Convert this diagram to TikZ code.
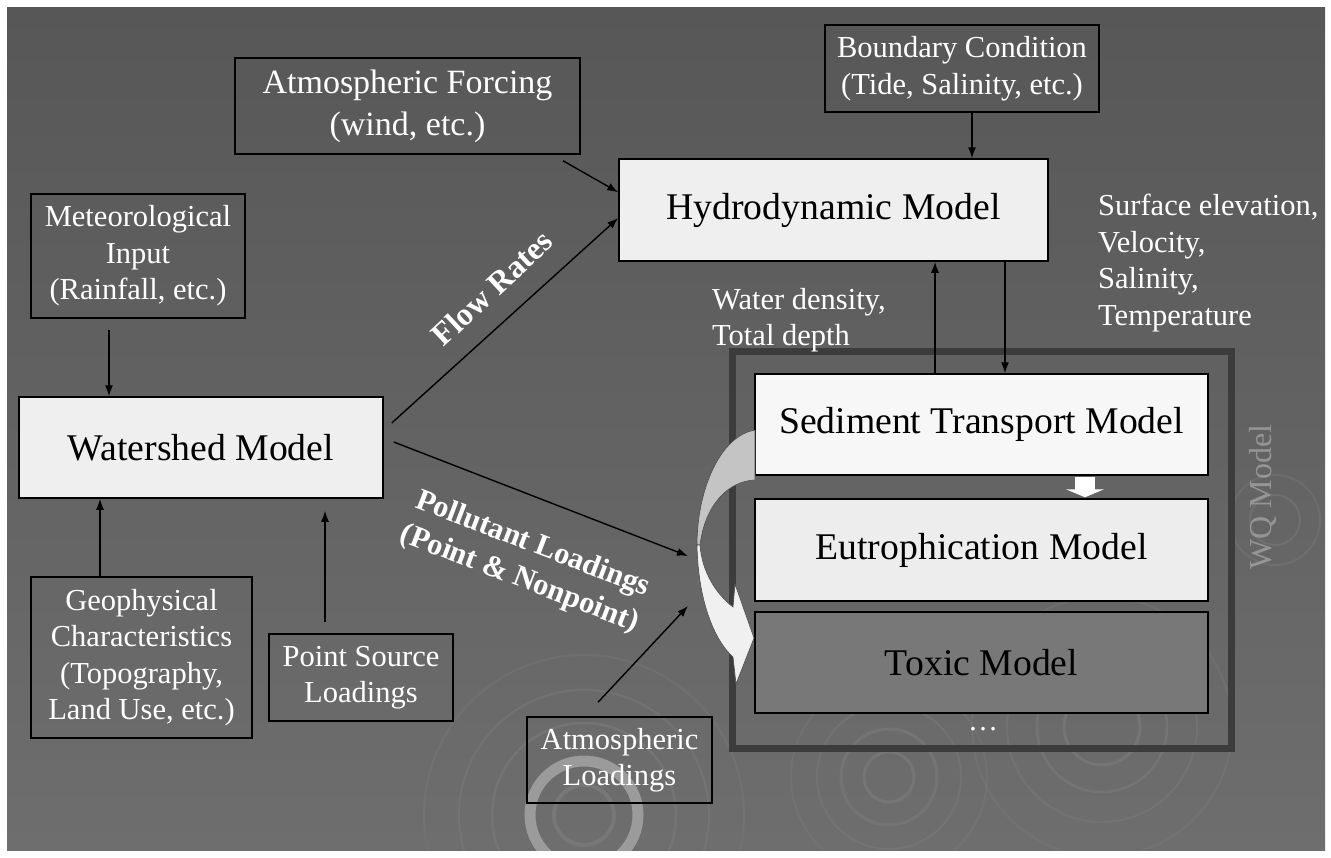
\documentclass[tikz,border=0pt]{standalone}
\usepackage{fontspec}
\setmainfont{Liberation Serif}
\usetikzlibrary{arrows.meta}
\definecolor{bgtop}{HTML}{575757}
\definecolor{bgbot}{HTML}{6E6E6E}
\definecolor{wqedge}{HTML}{3C3C3C}
\definecolor{lightbox}{HTML}{EFEFEF}
\definecolor{toxfill}{HTML}{787878}
\definecolor{ripple}{HTML}{7A7A7A}
\begin{document}
\begin{tikzpicture}[x=1pt,y=-1pt,
  inbox/.style={draw=black, line width=1.5pt, text=white, align=center, inner sep=0pt, font=\fontsize{30.5}{36.5}\selectfont},
  modelbox/.style={draw=black, line width=1.5pt, align=center, inner sep=0pt, font=\fontsize{37.7}{44}\selectfont},
  arr/.style={draw=black, line width=1.4pt, -{Latex[length=11pt,width=8pt]}},
  lbl/.style={text=white, align=left, inner sep=0pt, font=\fontsize{30.5}{36.5}\selectfont},
  boldlbl/.style={text=white, align=center, inner sep=0pt, font=\fontsize{30.5}{37}\selectfont\bfseries}]
\useasboundingbox (0,0) rectangle (1331,857);
\fill[white] (0,0) rectangle (1331,857);
\shade[top color=bgtop, bottom color=bgbot] (7,7) rectangle (1325,850);

% ripples
\begin{scope}
\clip (7,7) rectangle (1325,850);
\draw[ripple!60!white, line width=11pt, opacity=0.7] (584,815) circle (54);
\draw[ripple, line width=4pt, opacity=0.8] (584,815) circle (30);
\draw[ripple, line width=2.5pt, opacity=0.6] (584,815) circle (92);
\draw[ripple, line width=2pt, opacity=0.5] (584,815) circle (125);
\draw[ripple, line width=2pt, opacity=0.4] (584,815) circle (160);
\draw[ripple, line width=3pt, opacity=0.7] (889,777) circle (25);
\draw[ripple, line width=3pt, opacity=0.6] (889,777) circle (48);
\draw[ripple, line width=2pt, opacity=0.5] (889,777) circle (72);
\draw[ripple, line width=2pt, opacity=0.4] (889,777) circle (98);
\draw[ripple, line width=3pt, opacity=0.7] (1102,727) circle (38);
\draw[ripple, line width=2.5pt, opacity=0.6] (1102,727) circle (65);
\draw[ripple, line width=2pt, opacity=0.5] (1102,727) circle (95);
\draw[ripple, line width=2pt, opacity=0.4] (1102,727) circle (130);
\draw[ripple, line width=2pt, opacity=0.5] (1275,520) circle (25);
\draw[ripple, line width=2pt, opacity=0.4] (1275,520) circle (45);
\end{scope}
\node[rotate=90, text=ripple!70!white, opacity=0.8, inner sep=0pt, font=\fontsize{32}{36}\selectfont] (wqmark) at (1263,497) {WQ Model};

% input boxes
\node[inbox, minimum width=345pt, minimum height=96pt, font=\fontsize{34}{42}\selectfont] (atmforce) at (407.5,106) {Atmospheric Forcing\\(wind, etc.)};
\node[inbox, minimum width=274pt, minimum height=87pt] (boundary) at (962,68.5) {Boundary Condition\\(Tide, Salinity, etc.)};
\node[inbox, minimum width=214pt, minimum height=124pt] (meteo) at (138,256) {Meteorological\\Input\\(Rainfall, etc.)};
\node[inbox, minimum width=221pt, minimum height=161pt] (geophys) at (141.5,657.5) {Geophysical\\Characteristics\\(Topography,\\Land Use, etc.)};
\node[inbox, minimum width=184pt, minimum height=87pt] (pointsrc) at (361,677.5) {Point Source\\Loadings};
\node[inbox, minimum width=185pt, minimum height=86pt] (atmload) at (619.5,760) {Atmospheric\\Loadings};

% models
\node[modelbox, fill=lightbox, minimum width=429pt, minimum height=102pt] (hydro) at (833.5,210) {Hydrodynamic Model};
\node[modelbox, fill=lightbox, minimum width=364pt, minimum height=101pt] (watershed) at (201,447.5) {Watershed Model};
\node[draw=wqedge, line width=7pt, minimum width=499pt, minimum height=397pt, inner sep=0pt] (wq) at (981.5,549.5) {};
\node[modelbox, fill=white!97!black, minimum width=453pt, minimum height=101pt] (sediment) at (981.5,424.5) {Sediment Transport Model};
\node[modelbox, fill=white!93!black, minimum width=453pt, minimum height=102pt] (eutro) at (981.5,550) {Eutrophication Model};
\node[modelbox, fill=toxfill, minimum width=453pt, minimum height=101pt] (toxic) at (981.5,662.5) {Toxic Model};
\node[text=white, inner sep=0pt, font=\fontsize{30}{36}\selectfont] (dots) at (983,729) {\ldots};

% labels
\node[lbl, anchor=west] (wdens) at (712,320) {Water density,\\Total depth};
\node[lbl, anchor=west] (surf) at (1098,263) {Surface elevation,\\Velocity,\\Salinity,\\Temperature};
\node[boldlbl, rotate=43, font=\fontsize{32}{37}\selectfont\bfseries] (flow) at (492,288) {Flow Rates};
\node[boldlbl, rotate=-21] (pollut) at (526,562) {Pollutant Loadings\\(Point \& Nonpoint)};

\coordinate (polin) at (688,556);
\coordinate (atmin) at (688,606);

% connectors
\path[arr] ([xshift=-29pt,yshift=-11pt]meteo.south) -- ([xshift=-92pt]watershed.north);
\path[arr] ([xshift=-41.5pt]geophys.north) -- ([xshift=-101pt]watershed.south);
\path[arr] ([xshift=-36pt,yshift=11pt]pointsrc.north) -- ([xshift=124pt,yshift=-12pt]watershed.south);
\path[arr] ([xshift=155.5pt,yshift=-6pt]atmforce.south) -- ([yshift=-34pt]hydro.north west);
\path[arr] ([xshift=10pt]boundary.south) -- ([xshift=138.5pt]hydro.north);
\path[arr] ([xshift=8pt,yshift=24.5pt]watershed.east) -- ([yshift=-8pt]hydro.west);
\path[arr] ([xshift=10pt,yshift=5.5pt]watershed.east) -- (polin);
\path[arr] ([xshift=-21.5pt,yshift=14pt]atmload.north) -- (atmin);
\path[arr] ([xshift=-46.5pt]sediment.north) -- ([xshift=101.5pt]hydro.south);
\path[arr] ([xshift=171.5pt]hydro.south) -- ([xshift=23.5pt]sediment.north);
\path[draw=white, line width=20pt, -{Triangle[length=8pt,width=38pt]}] ([xshift=103.5pt,yshift=-1pt]sediment.south) -- ([xshift=103.5pt,yshift=1pt]eutro.north);

% curved arrow
\filldraw[fill=white!77!black, draw=black!70, line width=0.6pt] (755,430) .. controls (720,436) and (697,490) .. (697,545) -- (700,545) .. controls (705,505) and (728,481) .. (755,480) -- cycle;
\filldraw[fill=white!94!black, draw=black!70, line width=0.6pt] (697,545) .. controls (698,600) and (714,640) .. (733,657) -- (736,684) -- (754,638) -- (735,584) -- (733,607) .. controls (716,594) and (702,572) .. (700,545) -- cycle;
\end{tikzpicture}
\end{document}
